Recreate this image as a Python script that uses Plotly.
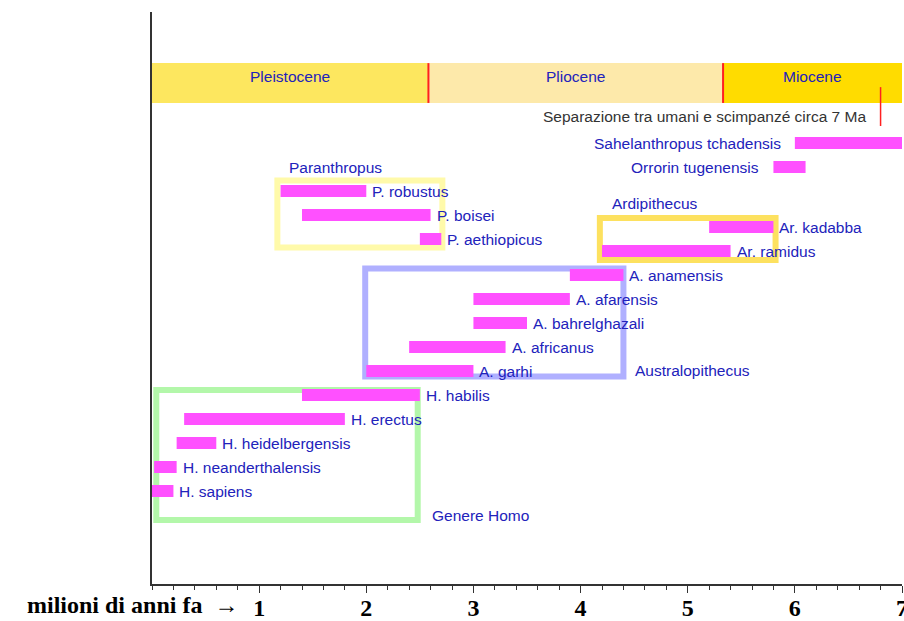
import plotly.graph_objects as go

# ---- data ----
species = ["Sahelanthropus tchadensis", "Orrorin tugenensis",
           "P. robustus", "P. boisei", "P. aethiopicus",
           "Ar. kadabba", "Ar. ramidus",
           "A. anamensis", "A. afarensis", "A. bahrelghazali", "A. africanus", "A. garhi",
           "H. habilis", "H. erectus", "H. heidelbergensis", "H. neanderthalensis", "H. sapiens"]
start_ma = [6.0, 5.8, 1.2, 1.4, 2.5, 5.2, 4.2, 3.9, 3.0, 3.0, 2.4, 2.0, 1.4, 0.3, 0.23, 0.02, 0.0]
end_ma = [7.0, 6.1, 2.0, 2.6, 2.7, 5.8, 5.4, 4.4, 3.9, 3.5, 3.3, 3.0, 2.5, 1.8, 0.6, 0.23, 0.2]
row = [0, 1, 2, 3, 4, 3.5, 4.5, 5.5, 6.5, 7.5, 8.5, 9.5, 10.5, 11.5, 12.5, 13.5, 14.5]
label_side = ["left", "left"] + ["right"] * 15

epochs = ["Pleistocene", "Pliocene", "Miocene"]
epoch_start = [0.0, 2.58, 5.33]
epoch_end = [2.58, 5.33, 7.0]
epoch_colors = ["#FDE75F", "#FDE9AA", "#FFDC00"]

groups = ["Paranthropus", "Ardipithecus", "Australopithecus", "Genere Homo"]
group_x0 = [1.17, 4.18, 1.99, 0.04]
group_x1 = [2.71, 5.82, 4.40, 2.48]
group_y0 = [1.56, 3.125, 5.23, 10.29]
group_y1 = [4.35, 4.875, 9.73, 15.71]
group_colors = ["#FFFAAA", "#FDE15F", "#B0B0FF", "#B3F7AA"]
group_label_x = [1.26, 4.27, 4.49, 2.59]
group_label_row = [1.04, 2.5, 9.46, 15.5]

split_ma = 6.8
split_text = "Separazione tra umani e scimpanzé circa 7 Ma"

tick_vals = [1, 2, 3, 4, 5, 6, 7]
axis_title = "milioni di anni fa\u00a0\u00a0\u2192"

BLUE = "#2222BB"
BAR = "#FF50FF"
FONT = "Liberation Sans, Arial"
FS = 15.5
SERIF = "Liberation Serif, Times New Roman"
AXC = "#333333"

fig = go.Figure()

# epoch band
fig.add_trace(go.Bar(
    orientation="h", y=[-2.5] * 3, base=epoch_start,
    x=[e - s for s, e in zip(epoch_start, epoch_end)],
    width=1.667, marker=dict(color=epoch_colors, line=dict(width=0)),
    hoverinfo="skip", showlegend=False))

# species bars
fig.add_trace(go.Bar(
    orientation="h", y=row, base=start_ma,
    x=[e - s for s, e in zip(start_ma, end_ma)],
    width=0.5, marker=dict(color=BAR, line=dict(width=0)),
    hovertext=species, showlegend=False))

annotations = []
for name, s, e, r, side in zip(species, start_ma, end_ma, row, label_side):
    if side == "right":
        annotations.append(dict(x=e, y=r, text=name, xanchor="left", xshift=4,
                                showarrow=False, font=dict(color=BLUE, size=FS, family=FONT)))
    else:
        annotations.append(dict(x=s, y=r, text=name, xanchor="right", xshift=-12,
                                showarrow=False, font=dict(color=BLUE, size=FS, family=FONT)))

for name, s, e in zip(epochs, epoch_start, epoch_end):
    annotations.append(dict(x=(s + e) / 2, y=-2.5, text=name, yshift=7, showarrow=False,
                            font=dict(color=BLUE, size=FS, family=FONT)))

shapes = []
for x0, x1, y0, y1, c in zip(group_x0, group_x1, group_y0, group_y1, group_colors):
    shapes.append(dict(type="rect", x0=x0, x1=x1, y0=y0, y1=y1, xref="x", yref="y",
                       line=dict(color=c, width=6), fillcolor="rgba(0,0,0,0)", layer="below"))
for name, gx, gr in zip(groups, group_label_x, group_label_row):
    annotations.append(dict(x=gx, y=gr, text=name, xanchor="left", showarrow=False,
                            font=dict(color=BLUE, size=FS, family=FONT)))

# epoch boundaries
for b in epoch_start[1:]:
    shapes.append(dict(type="line", x0=b, x1=b, y0=-3.33, y1=-1.67, xref="x", yref="y",
                       line=dict(color="#FF2020", width=2), layer="above"))
# split line
shapes.append(dict(type="line", x0=split_ma, x1=split_ma, y0=-2.33, y1=-0.71, xref="x", yref="y",
                   line=dict(color="#FF2020", width=1.5), layer="above"))
annotations.append(dict(x=split_ma, y=-1.125, text=split_text, xanchor="right", xshift=-13,
                        showarrow=False, font=dict(color="#333333", size=FS, family=FONT)))

# axis title at left of tick labels
annotations.append(dict(x=0.82, xref="x", y=0, yref="paper", yanchor="top", yshift=-6,
                        xanchor="right", text="<b>" + axis_title + "</b>", showarrow=False,
                        font=dict(color="black", size=24, family=SERIF)))

fig.update_layout(
    width=904, height=621,
    margin=dict(l=152, r=2, t=12, b=37, autoexpand=False),
    plot_bgcolor="white", paper_bgcolor="white",
    barmode="overlay",
    shapes=shapes, annotations=annotations,
    xaxis=dict(range=[0, 7], showgrid=False, zeroline=False, showline=True,
               linecolor=AXC, linewidth=1.5, ticks="outside", ticklen=7,
               tickcolor=AXC, tickwidth=1.2, automargin=False,
               tickvals=tick_vals, ticktext=["<b>%d</b>" % v for v in tick_vals],
               tickfont=dict(size=24, color="black", family=SERIF),
               ticklabeloverflow="allow", ticklabelstandoff=-6,
               minor=dict(dtick=0.2, ticks="outside", ticklen=4, tickcolor=AXC, tickwidth=1),
               fixedrange=True),
    yaxis=dict(range=[18.375, -5.46], showgrid=False, zeroline=False, showline=True,
               linecolor=AXC, linewidth=1.5, showticklabels=False, ticks="",
               automargin=False, fixedrange=True),
)

fig.write_html("out.html", config={"displayModeBar": False},
               post_script="document.body.style.margin='0';document.body.style.padding='0';"
                           "document.body.style.overflow='hidden';")
